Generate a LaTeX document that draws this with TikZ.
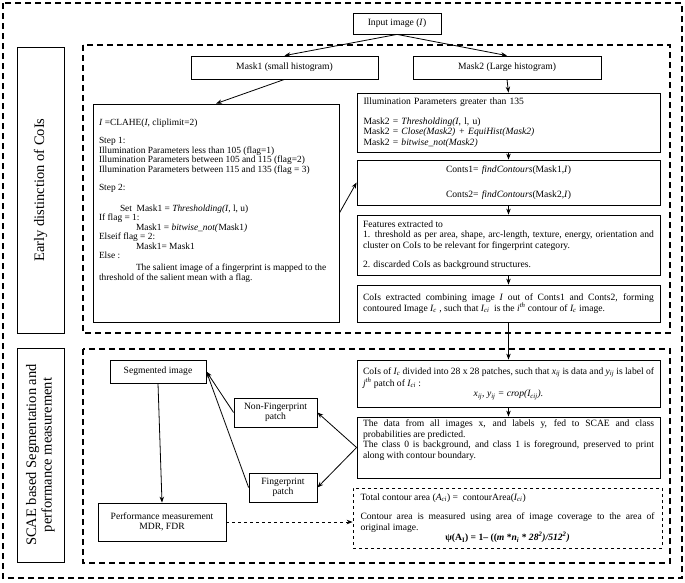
\documentclass[tikz,border=0pt]{standalone}
\usepackage{fontspec}
\setmainfont{Liberation Serif}
\usetikzlibrary{arrows.meta}
\hyphenpenalty=10000
\exhyphenpenalty=10000

\tikzset{
  box/.style={draw, line width=.8pt, inner sep=0pt, font=\fontsize{9.6}{10.5}\selectfont},
  zone/.style={line width=1.7pt, dash pattern=on 6pt off 4pt},
  arr/.style={-{Stealth[length=6pt,width=4.5pt]}, line width=.8pt},
  tag/.style={draw, line width=.8pt, rotate=90, inner sep=0pt, align=center,
    font=\fontsize{14.5}{15.5}\selectfont}
}
\newcommand{\sub}[1]{\textsubscript{#1}}
\newcommand{\midline}[1]{\null\hspace*{\fill}#1\hspace*{\fill}\null}

\begin{document}
\begin{tikzpicture}[x=1pt,y=-1pt]
\useasboundingbox (0,0) rectangle (685,582);

%%%%%%%%%%%%%%%%%%%%%%%%%%%%%%%%%%%%%%
\draw [zone] (3,3) rectangle (682,578);
\draw [zone] (83,45) rectangle (670,333);
\draw [zone] (83,349) rectangle (670,563);

\node[tag, minimum width=286pt, minimum height=47pt] at (40.5,190) (early) {Early distinction of CoIs};
\node[tag, minimum width=214pt, minimum height=47pt] at (40.5,455) (scaelab) {SCAE based Segmentation and\\performance measurement};

\node[box, minimum width=88pt, minimum height=21pt] at (397,23.5) (input) {Input image (\textit{I})};
\node[box, minimum width=187pt, minimum height=23pt] at (284.5,67.5) (mask1) {Mask1 (small histogram)};
\node[box, minimum width=188pt, minimum height=23pt] at (507,67.5) (mask2) {Mask2 (Large histogram)};

\node[box, minimum width=246pt, minimum height=218pt, font=\fontsize{9.4}{9.5}\selectfont] at (216,213) (clahe) {\parbox[c][210pt][t]{234pt}{%
\vspace*{11pt}%
\textit{I} =CLAHE(\textit{I}, cliplimit=2)\\[8.5pt]
Step 1:\\
Illumination Parameters less than 105 (flag=1)\\
Illumination Parameters between 105 and 115 (flag=2)\\
Illumination Parameters between 115 and 135 (flag = 3)\\[8.5pt]
Step 2:\\[11.5pt]
\hspace*{21pt}Set\ \ Mask1 = \textit{Thresholding(I}, l, u)\\
If flag = 1:\\
\hspace*{37pt}Mask1 = \textit{bitwise\_not(}Mask1\textit{)}\\
Elseif flag = 2:\\
\hspace*{37pt}Mask1= Mask1\\
Else :\\[2.5pt]
\hspace*{37pt}The salient image of a fingerprint is mapped to the\\
threshold of the salient mean with a flag.}};

\node[box, minimum width=303pt, minimum height=59pt, text width=290pt, align=left] at (508.5,122.5) (illum) {%
Illumination Parameters greater than 135\\[9pt]
Mask2 = \textit{Thresholding(I}, l, u)\\
Mask2 = \textit{Close(Mask2) + EquiHist(Mask2)}\\
Mask2 = \textit{bitwise\_not(Mask2)}};

\node[box, minimum width=303pt, minimum height=45pt, text width=290pt, align=center] at (508.5,182.5) (conts) {%
Conts1= \textit{findContours}(Mask1,\textit{I})\\[14pt]
Conts2= \textit{findContours}(Mask2,\textit{I})};

\node[box, minimum width=303pt, minimum height=60pt, text width=291pt, align=justify] at (508.5,245) (feat) {%
Features extracted to\\
1. threshold as per area, shape, arc-length, texture, energy, orientation and\linebreak cluster on CoIs to be relevant for fingerprint category.\\[9pt]
2. discarded CoIs as background structures.};

\node[box, minimum width=303pt, minimum height=37pt, text width=291pt, align=justify] at (508.5,303.5) (coisext) {%
CoIs extracted combining image \textit{I} out of Conts1 and Conts2, forming\linebreak contoured Image \textit{I\sub{c}} , such that \textit{I\sub{ci}}\ \ is the \textit{i\textsuperscript{th}} contour of \textit{I\sub{c}} image.};

%%%%%%%%%%%%%%%%%%%%%%%%%%%%%%%%%%%%%%
\node[box, minimum width=303pt, minimum height=47pt, text width=291pt, align=justify] at (508.5,383.5) (patches) {%
CoIs of \textit{I\sub{c}} divided into 28 x 28 patches, such that \textit{x\sub{ij}} is data and \textit{y\sub{ij}} is label of\linebreak \textit{j\textsuperscript{th}} patch of \textit{I\sub{ci}} :\\
\midline{\textit{x\sub{ij}, y\sub{ij} = crop(I\sub{cij}).}}};

\node[box, minimum width=303pt, minimum height=61pt] at (508.5,447.5) (scae) {\parbox[c][55pt][t]{291pt}{%
The data from all images x, and labels y, fed to SCAE and class\linebreak probabilities are predicted.\par
The class 0 is background, and class 1 is foreground, preserved to print\linebreak along with contour boundary.}};

\node[box, dashed, minimum width=309pt, minimum height=60pt, text width=294pt, align=justify] at (507.5,518) (area) {%
Total contour area (\textit{A\sub{ci}}) =\ \ contourArea(\textit{I\sub{ci}})\\[9pt]
Contour area is measured using area of image coverage to the area of\linebreak original image.\\
\midline{\textbf{ψ(A\sub{I}) = 1– ((\textit{m} *\textit{n\sub{i}} * \textit{28\textsuperscript{2})/512\textsuperscript{2})}}}};

\node[box, minimum width=96pt, minimum height=23pt] at (158,371.5) (seg) {Segmented image};
\node[box, minimum width=83pt, minimum height=29pt, align=center] at (275.5,412.5) (nonfp) {Non-Fingerprint\\patch};
\node[box, minimum width=68pt, minimum height=29pt, align=center] at (283,487.5) (fp) {Fingerprint\\patch};
\node[box, minimum width=128pt, minimum height=38pt, align=center] at (162,522) (perf) {Performance measurement\\MDR, FDR};

%%%%%%%%%%%%%%%%%%%%%%%%%%%%%%%%%%%%%%
\draw[arr] (input.south) -- (mask1.north);
\draw[arr] (input.south) -- (mask2.north);
\draw[arr] (mask1.south) -- (clahe.north);
\draw[arr] (mask2.south) -- (illum.north);
\draw[arr] (illum.south) -- (conts.north);
\draw[arr] (conts.south) -- (feat.north);
\draw[arr] (feat.south) -- (coisext.north);
\draw[arr] (clahe.east) -- (conts.west);
\draw[arr] (coisext.south) -- (patches.north);
\draw[arr] (patches.south) -- (scae.north);

\draw[arr] (scae.west) -- (nonfp.east);
\draw[arr] (scae.west) -- (fp.east);
\draw[arr] (nonfp.west) -- (seg.east);
\draw[arr] (fp.west) -- (seg.east);
\draw[arr] (seg.south) -- (perf.north);
\draw[arr, dashed] (perf.east) -- (perf.east -| area.west);

\end{tikzpicture}
\end{document}
